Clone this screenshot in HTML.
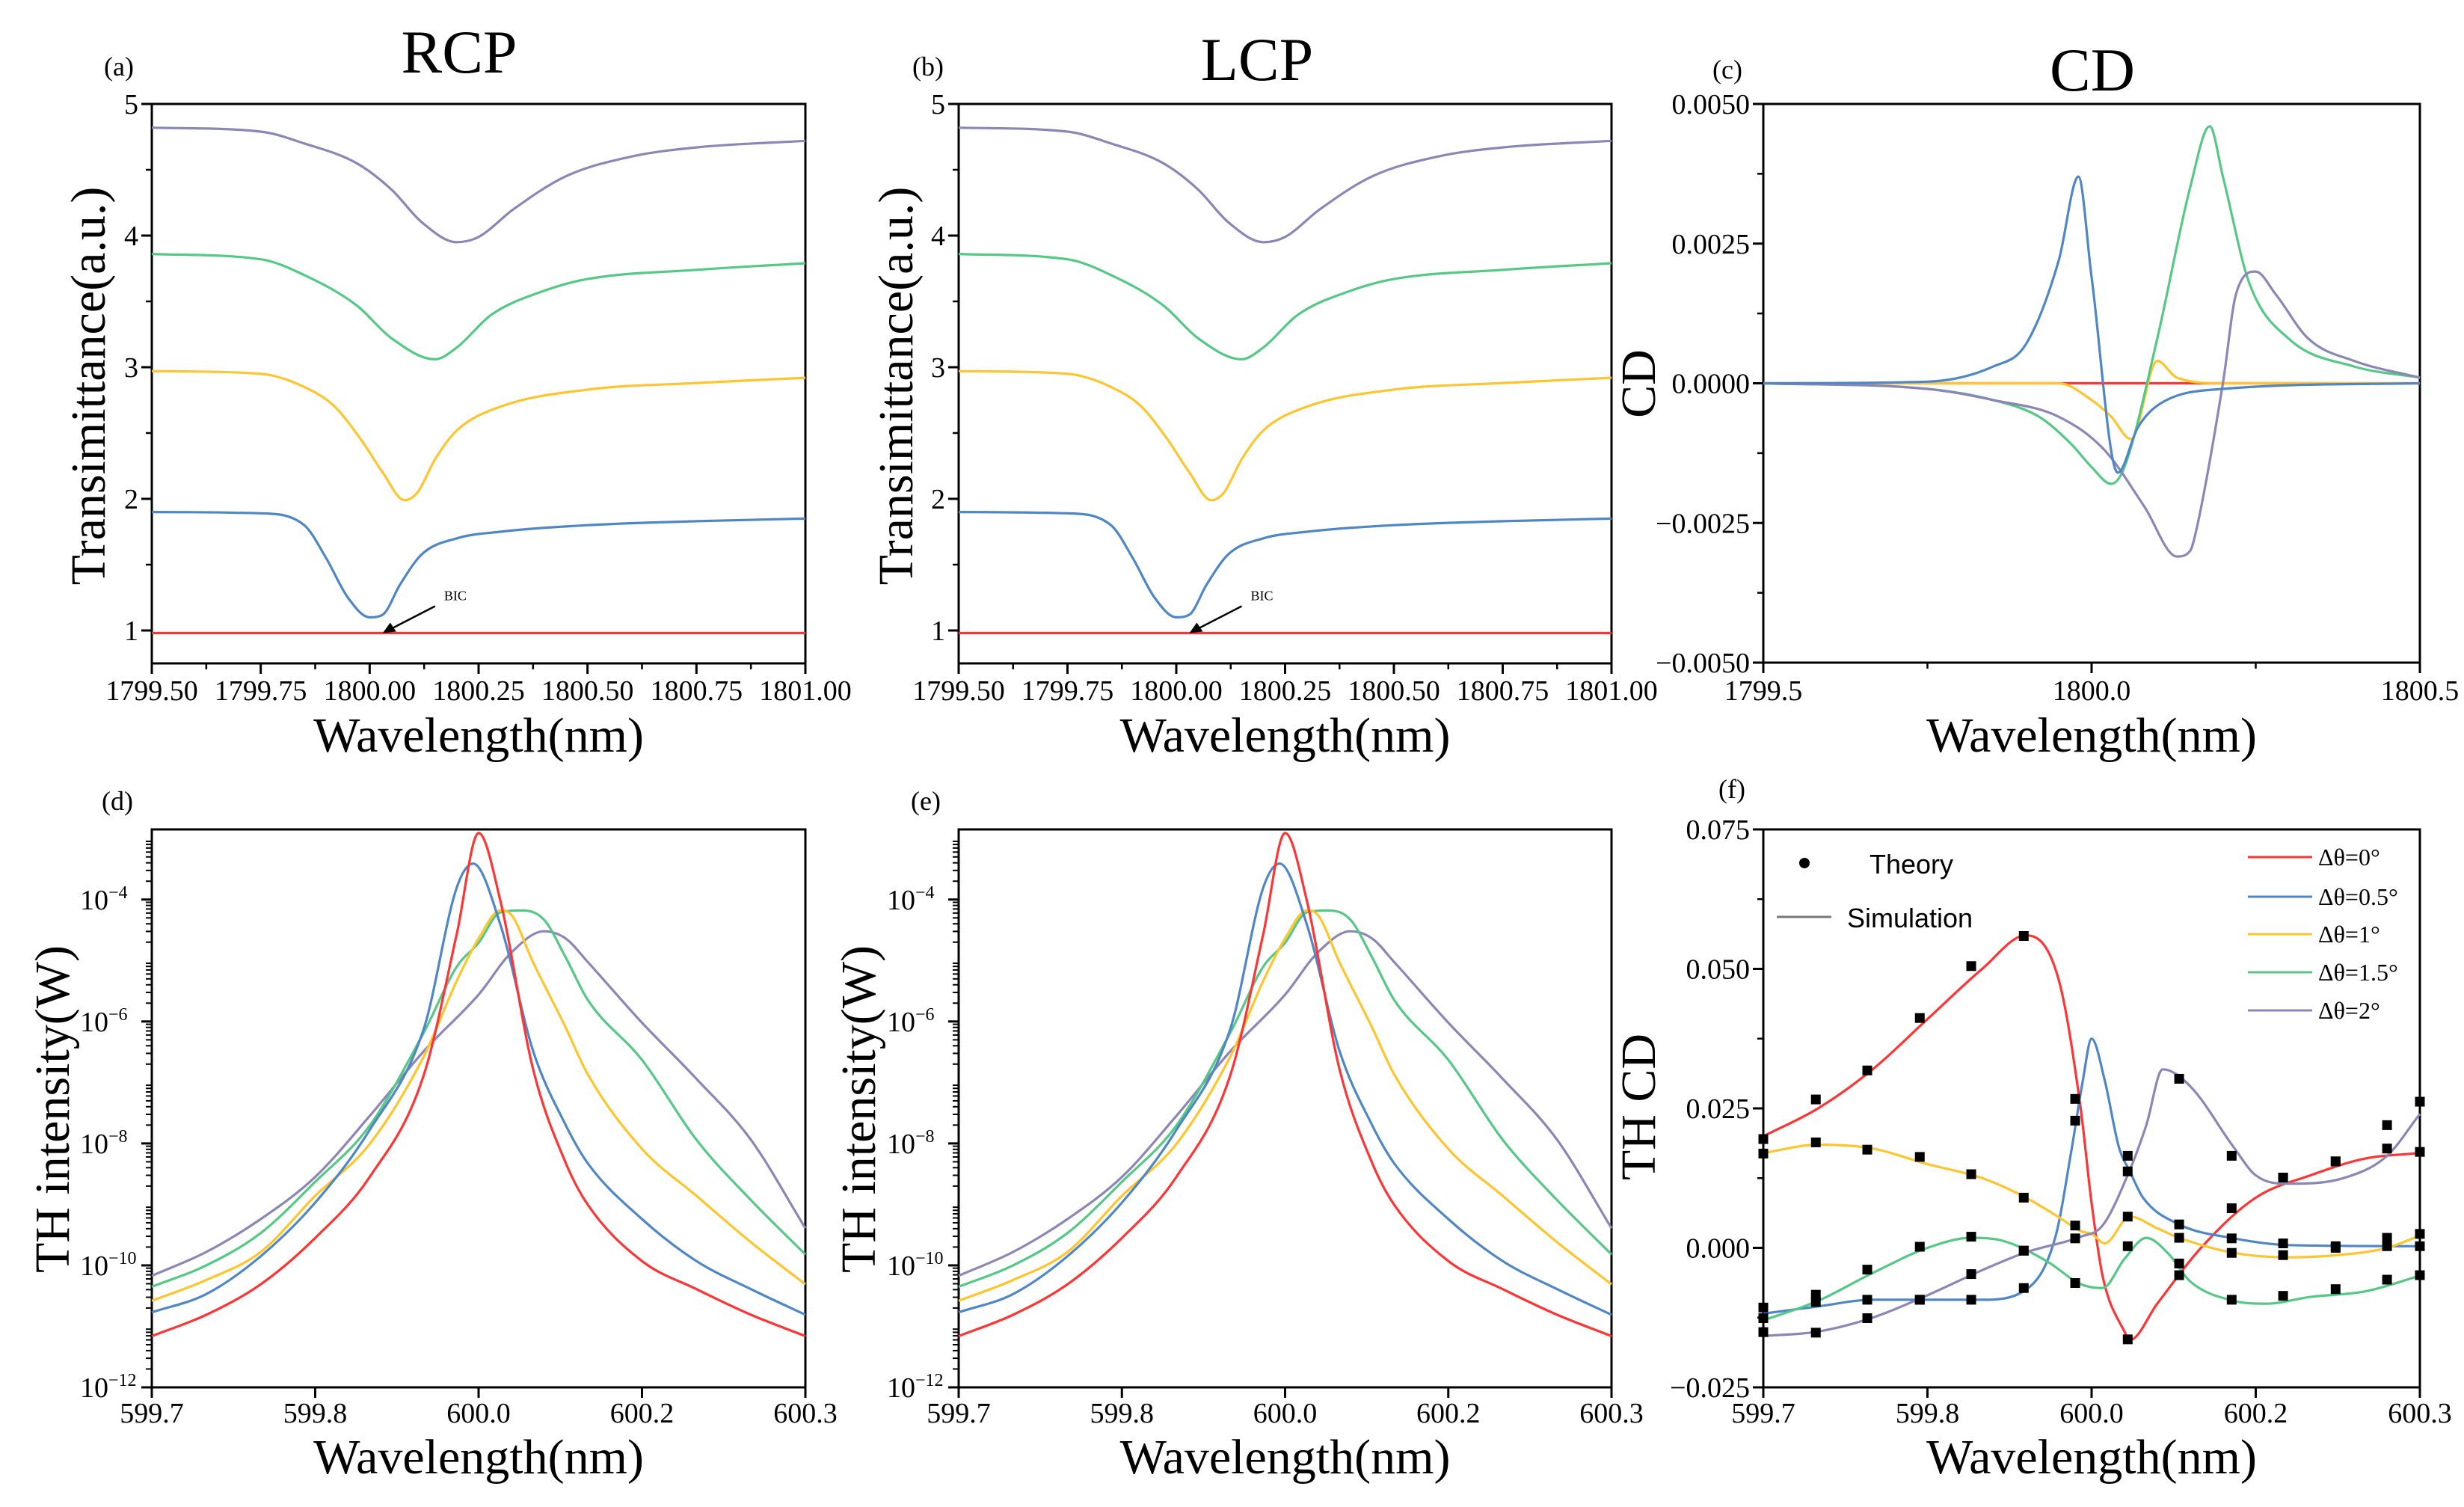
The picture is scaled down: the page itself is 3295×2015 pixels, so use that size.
<!DOCTYPE html>
<html><head><meta charset="utf-8"><style>
html,body{margin:0;padding:0;background:#fff;}
svg{display:block;}
text{font-family:"Liberation Serif",serif;fill:#000;}
.sans{font-family:"Liberation Sans",sans-serif;}
</style></head><body>
<svg id="fig" width="3295" height="2015" viewBox="0 0 3295 2015" xmlns="http://www.w3.org/2000/svg"></svg>
<script>
// ---------- Panel a/b : transmittance (x, y pairs per series) ----------
const tX_red = [1799.5, 1801.0];
const tY_red = [0.98, 0.98];
const tX_blue = [1799.5,1799.75,1799.85,1799.9,1799.95,1800.0,1800.03,1800.07,1800.12,1800.2,1800.3,1800.5,1800.75,1801.0];
const tY_blue = [1.90,1.89,1.80,1.55,1.25,1.10,1.12,1.35,1.58,1.70,1.75,1.80,1.83,1.85];
const tX_yellow = [1799.5,1799.75,1799.85,1799.92,1799.98,1800.03,1800.08,1800.11,1800.15,1800.2,1800.3,1800.5,1800.75,1801.0];
const tY_yellow = [2.97,2.95,2.85,2.70,2.45,2.20,1.99,2.05,2.30,2.52,2.70,2.83,2.88,2.92];
const tX_green = [1799.5,1799.75,1799.85,1799.97,1800.05,1800.15,1800.2,1800.28,1800.4,1800.5,1800.75,1801.0];
const tY_green = [3.86,3.82,3.70,3.47,3.22,3.06,3.15,3.40,3.58,3.67,3.74,3.79];
const tX_purple = [1799.5,1799.75,1799.85,1799.97,1800.05,1800.12,1800.2,1800.25,1800.33,1800.45,1800.6,1800.75,1801.0];
const tY_purple = [4.82,4.79,4.70,4.55,4.35,4.10,3.95,3.99,4.20,4.45,4.60,4.67,4.72];
const tXTicks = [1799.5,1799.75,1800.0,1800.25,1800.5,1800.75,1801.0];
const tXLabels = ["1799.50","1799.75","1800.00","1800.25","1800.50","1800.75","1801.00"];
const tYTicks = [1,2,3,4,5];
const tYLabels = ["1","2","3","4","5"];

// ---------- Panel c : CD ----------
const cX_red = [1799.5,1800.5];
const cY_red = [0,0];
const cX_blue = [1799.5,1799.75,1799.85,1799.9,1799.95,1799.98,1800.0,1800.04,1800.07,1800.1,1800.2,1800.5];
const cY_blue = [0,0.00003,0.0003,0.0007,0.0022,0.0037,0.0019,-0.0016,-0.0008,-0.0004,-0.0001,0];
const cX_green = [1799.5,1799.75,1799.85,1799.92,1799.97,1800.0,1800.03,1800.05,1800.1,1800.15,1800.18,1800.2,1800.24,1800.3,1800.4,1800.5];
const cY_green = [0,-0.0001,-0.0003,-0.0006,-0.0011,-0.0015,-0.0018,-0.0015,0.0008,0.0035,0.0046,0.0037,0.0018,0.0008,0.0003,0.0001];
const cX_yellow = [1799.5,1799.95,1800.0,1800.03,1800.06,1800.1,1800.13,1800.2,1800.5];
const cY_yellow = [0,0,-0.0003,-0.0006,-0.001,0.0004,0.0001,0,0];
const cX_purple = [1799.5,1799.75,1799.85,1799.95,1800.02,1800.08,1800.13,1800.15,1800.16,1800.2,1800.22,1800.25,1800.28,1800.33,1800.4,1800.5];
const cY_purple = [0,-0.0001,-0.0003,-0.0006,-0.0012,-0.0022,-0.0031,-0.0030,-0.0026,0.0,0.0016,0.0020,0.0016,0.0008,0.0004,0.0001];
const cXTicks = [1799.5,1800.0,1800.5];
const cXLabels = ["1799.5","1800.0","1800.5"];
const cYTicks = [-0.005,-0.0025,0,0.0025,0.005];
const cYLabels = ["\u22120.0050","\u22120.0025","0.0000","0.0025","0.0050"];

// ---------- Panel d/e : TH intensity (log10 W) ----------
const dX = [599.7,599.75,599.8,599.85,599.9,599.95,599.98,600.0,600.02,600.05,600.08,600.1,600.15,600.2,600.25,600.3];
const dY_red = [-11.16,-10.81,-10.31,-9.55,-8.55,-6.86,-4.56,-2.91,-4.02,-6.78,-8.32,-9.0,-9.93,-10.39,-10.81,-11.16];
const dX_blue = [599.7,599.75,599.8,599.85,599.9,599.95,599.98,599.995,600.02,600.05,600.08,600.1,600.15,600.2,600.25,600.3];
const dY_blue = [-10.77,-10.47,-9.85,-8.97,-7.78,-6.1,-3.8,-3.41,-4.41,-6.48,-7.7,-8.32,-9.24,-9.93,-10.39,-10.81];
const dX_yellow = [599.7,599.75,599.8,599.85,599.9,599.95,599.98,600.0,600.02,600.03,600.05,600.08,600.1,600.15,600.2,600.25,600.3];
const dY_yellow = [-10.58,-10.24,-9.78,-8.86,-8.01,-6.56,-5.33,-4.64,-4.18,-4.25,-5.03,-6.1,-6.86,-8.09,-8.86,-9.62,-10.31];
const dX_green = [599.7,599.75,599.8,599.85,599.9,599.95,599.98,600.0,600.02,600.04,600.06,600.08,600.1,600.15,600.2,600.25,600.3];
const dY_green = [-10.35,-10.0,-9.47,-8.63,-7.71,-6.17,-5.1,-4.71,-4.21,-4.18,-4.33,-4.95,-5.64,-6.63,-7.94,-8.93,-9.82];
const dX_purple = [599.7,599.75,599.8,599.85,599.9,599.95,600.0,600.03,600.06,600.08,600.1,600.15,600.2,600.25,600.3];
const dY_purple = [-10.17,-9.78,-9.24,-8.55,-7.55,-6.48,-5.56,-4.87,-4.52,-4.64,-5.02,-6.02,-6.94,-7.94,-9.39];
const dXTicks = [599.7,599.85,600.0,600.15,600.3];
const dXLabels = ["599.7","599.8","600.0","600.2","600.3"];
const dYTicks = [-12,-10,-8,-6,-4];
const dYExp = ["\u221212","\u221210","\u22128","\u22126","\u22124"];

// ---------- Panel f : TH CD ----------
const fSimX_red = [599.7,599.75,599.8,599.85,599.9,599.94,599.97,599.99,600.0,600.01,600.03,600.035,600.06,600.1,600.15,600.2,600.25,600.3];
const fSimY_red = [0.020,0.025,0.032,0.041,0.050,0.056,0.048,0.025,0.008,-0.005,-0.015,-0.0165,-0.010,0.0,0.009,0.013,0.016,0.017];
const fSimX_blue = [599.7,599.75,599.8,599.85,599.9,599.94,599.967,599.982,599.992,600.0,600.012,600.025,600.035,600.047,600.08,600.13,600.18,600.3];
const fSimY_blue = [-0.0118,-0.0105,-0.0093,-0.0093,-0.0093,-0.0075,0.002,0.018,0.030,0.0375,0.030,0.018,0.0137,0.009,0.0042,0.0017,0.0005,0.0003];
const fSimX_yellow = [599.7,599.75,599.8,599.85,599.9,599.94,599.97,599.99,600.0,600.012,600.035,600.06,600.08,600.13,600.18,600.23,600.27,600.3];
const fSimY_yellow = [0.017,0.0185,0.0178,0.015,0.0125,0.009,0.0055,0.003,0.0025,0.0008,0.0056,0.0035,0.0018,-0.0009,-0.0017,-0.0012,0.0,0.0022];
const fSimX_green = [599.7,599.75,599.8,599.85,599.89,599.92,599.96,599.99,600.01,600.03,600.05,600.07,600.09,600.13,600.16,600.2,600.25,600.3];
const fSimY_green = [-0.013,-0.0095,-0.0045,0.0,0.0018,0.0012,-0.0025,-0.0065,-0.0072,-0.002,0.0018,-0.001,-0.006,-0.0095,-0.010,-0.0088,-0.0078,-0.005];
const fSimX_purple = [599.7,599.75,599.8,599.85,599.9,599.94,599.99,600.01,600.035,600.05,600.065,600.09,600.13,600.15,600.18,600.23,600.27,600.3];
const fSimY_purple = [-0.0158,-0.015,-0.0125,-0.0085,-0.004,-0.0008,0.002,0.004,0.014,0.022,0.032,0.029,0.018,0.013,0.0115,0.0125,0.0165,0.024];
const fThX = [599.7,599.748,599.795,599.843,599.89,599.938,599.985,600.033,600.08,600.128,600.175,600.223,600.27,600.3];
const fTh_red = [0.0195,0.0266,0.0318,0.0412,0.0505,0.0559,0.0267,-0.0164,-0.0028,0.0071,0.0126,0.0155,0.0178,0.0172];
const fTh_blue = [-0.0107,-0.0097,-0.0093,-0.0093,-0.0093,-0.0072,0.0228,0.0137,0.0042,0.0017,0.0008,0.0003,0.0003,0.0003];
const fTh_yellow = [0.0169,0.0189,0.0176,0.0163,0.0132,0.009,0.004,0.0056,0.0018,-0.0009,-0.0013,0.0,0.0018,0.0025];
const fTh_green = [-0.0126,-0.0084,-0.0039,0.0002,0.002,-0.0005,-0.0063,0.0003,-0.0049,-0.0093,-0.0086,-0.0074,-0.0057,-0.0049];
const fTh_purple = [-0.0151,-0.0152,-0.0126,-0.0093,-0.0047,-0.0005,0.0017,0.0165,0.0303,0.0165,0.0126,0.0155,0.022,0.0262];
const fYTicks = [-0.025,0,0.025,0.05,0.075];
const fYLabels = ["\u22120.025","0.000","0.025","0.050","0.075"];
const fLegendLabels = ["\u0394\u03b8=0\u00b0","\u0394\u03b8=0.5\u00b0","\u0394\u03b8=1\u00b0","\u0394\u03b8=1.5\u00b0","\u0394\u03b8=2\u00b0"];

const COL = {red:"#ff3535", blue:"#4f86c6", yellow:"#ffc52e", green:"#55c886", purple:"#8c86b6"};
const NS = "http://www.w3.org/2000/svg";
const svg = document.getElementById('fig');

function el(tag, attrs, parent){
  const e = document.createElementNS(NS, tag);
  for (const k in attrs) e.setAttribute(k, attrs[k]);
  (parent||svg).appendChild(e);
  return e;
}
function sx(p,v){return p.L+(v-p.x0)/(p.x1-p.x0)*(p.R-p.L);}
function sy(p,v){return p.B-(v-p.y0)/(p.y1-p.y0)*(p.B-p.T);}

// monotone cubic path through screen points
function smoothPath(P){
  const n = P.length;
  if (n<3) return P.map((q,i)=>(i?'L':'M')+q[0].toFixed(1)+','+q[1].toFixed(1)).join(' ');
  const d=[], m=[];
  for (let i=0;i<n-1;i++) d.push((P[i+1][1]-P[i][1])/(P[i+1][0]-P[i][0]));
  m.push(d[0]);
  for (let i=1;i<n-1;i++) m.push(d[i-1]*d[i]<=0?0:(d[i-1]+d[i])/2);
  m.push(d[n-2]);
  for (let i=0;i<n-1;i++){
    if (d[i]===0){m[i]=0;m[i+1]=0;continue;}
    const a=m[i]/d[i], b=m[i+1]/d[i], s=a*a+b*b;
    if (s>9){const t=3/Math.sqrt(s);m[i]=t*a*d[i];m[i+1]=t*b*d[i];}
  }
  let s='M'+P[0][0].toFixed(1)+','+P[0][1].toFixed(1);
  for (let i=0;i<n-1;i++){
    const h=(P[i+1][0]-P[i][0])/3;
    s+=' C'+(P[i][0]+h).toFixed(1)+','+(P[i][1]+m[i]*h).toFixed(1)+' '+(P[i+1][0]-h).toFixed(1)+','+(P[i+1][1]-m[i+1]*h).toFixed(1)+' '+P[i+1][0].toFixed(1)+','+P[i+1][1].toFixed(1);
  }
  return s;
}

function frame(p, name){
  const g = el('g',{});
  
  
  const r = el('rect',{x:p.L,y:p.T,width:p.R-p.L,height:p.B-p.T,fill:'none',stroke:'#000','stroke-width':3},g);
  
  
  return g;
}
function xTicks(p, g, ticks, labels, minor, ly){
  ticks.forEach((t,i)=>{
    const x = sx(p,t);
    const tk = el('line',{x1:x,x2:x,y1:p.B,y2:p.B+14,stroke:'#000','stroke-width':3},g);
    
    
    const tx = el('text',{x:x,y:ly,'font-size':38,'text-anchor':'middle'},g);
    tx.textContent = labels[i];
    
    
  });
  minor.forEach(t=>{
    const x = sx(p,t);
    const tk = el('line',{x1:x,x2:x,y1:p.B,y2:p.B+8,stroke:'#000','stroke-width':2.5},g);
    
    
  });
}
function yTicks(p, g, ticks, labels, minor, lx){
  ticks.forEach((t,i)=>{
    const y = sy(p,t);
    const tk = el('line',{x1:p.L-14,x2:p.L,y1:y,y2:y,stroke:'#000','stroke-width':3},g);
    
    
    const tx = el('text',{x:lx,y:y+13,'font-size':38,'text-anchor':'end'},g);
    tx.textContent = labels[i];
    
    
  });
  minor.forEach(t=>{
    const y = sy(p,t);
    const tk = el('line',{x1:p.L-8,x2:p.L,y1:y,y2:y,stroke:'#000','stroke-width':2.5},g);
    
    
  });
}
function series(p, g, xs, ys, color, name){
  const pts = xs.map((x,i)=>[sx(p,x), sy(p,ys[i])]);
  const path = el('path',{d:smoothPath(pts),fill:'none',stroke:color,'stroke-width':3.2,'stroke-linejoin':'round'},g);
  
  
}
function label(x,y,txt,size,name,anchor,rot,cls){
  const t = el('text',{x:x,y:y,'font-size':size,'text-anchor':anchor||'middle'});
  if (rot) t.setAttribute('transform','rotate(-90 '+x+' '+y+')');
  if (cls) t.setAttribute('class', cls);
  t.textContent = txt;
  
  
  return t;
}
function range(a,b,s){const r=[];for(let v=a;v<=b+1e-9;v+=s)r.push(+v.toFixed(6));return r;}

// ---------- panels a & b ----------
[[203,1077,'a','RCP',614,97,139,140],[1282,2155,'b','LCP',1681,107,1220,1220]].forEach(cfg=>{
  const p = {L:cfg[0],R:cfg[1],T:139,B:887,x0:1799.5,x1:1801.0,y0:0.75,y1:5};
  const g = frame(p, 'panel-'+cfg[2]);
  xTicks(p,g,tXTicks,tXLabels,range(1799.625,1801,0.25),936);
  yTicks(p,g,tYTicks,tYLabels,[1.5,2.5,3.5,4.5],p.L-18);
  series(p,g,tX_red,tY_red,COL.red,'series-dtheta-0');
  series(p,g,tX_blue,tY_blue,COL.blue,'series-dtheta-0.5');
  series(p,g,tX_yellow,tY_yellow,COL.yellow,'series-dtheta-1');
  series(p,g,tX_green,tY_green,COL.green,'series-dtheta-1.5');
  series(p,g,tX_purple,tY_purple,COL.purple,'series-dtheta-2');
  const ax = sx(p,1800.03), ay = sy(p,0.98);
  const ar = el('line',{x1:ax+70,y1:ay-36,x2:ax+4,y2:ay-2,stroke:'#000','stroke-width':2.5},g);
  
  
  const hd = el('path',{d:'M'+ax+','+ay+' l18,-2 l-8,-12 z',fill:'#000'},g);
  
  
  const bt = el('text',{x:ax+82,y:ay-44,'font-size':18},g);
  bt.textContent = 'BIC';
  
  
  label((p.L+p.R)/2, 1005, 'Wavelength(nm)', 66, 'x-axis-title');
  label(cfg[7], 516, 'Transimittance(a.u.)', 66, 'y-axis-title', 'middle', true);
  label(cfg[4], cfg[5], cfg[3], 82, 'panel-title');
  label(cfg[6], 101, '('+cfg[2]+')', 36, 'panel-label', 'start');
});

// ---------- panel c ----------
(function(){
  const p = {L:2358,R:3236,T:139,B:886,x0:1799.5,x1:1800.5,y0:-0.005,y1:0.005};
  const g = frame(p, 'panel-c');
  xTicks(p,g,cXTicks,cXLabels,[1799.75,1800.25],936);
  yTicks(p,g,cYTicks,cYLabels,[-0.00375,-0.00125,0.00125,0.00375],p.L-18);
  series(p,g,cX_red,cY_red,COL.red,'cd-dtheta-0');
  series(p,g,cX_yellow,cY_yellow,COL.yellow,'cd-dtheta-1');
  series(p,g,cX_green,cY_green,COL.green,'cd-dtheta-1.5');
  series(p,g,cX_purple,cY_purple,COL.purple,'cd-dtheta-2');
  series(p,g,cX_blue,cY_blue,COL.blue,'cd-dtheta-0.5');
  label((p.L+p.R)/2, 1005, 'Wavelength(nm)', 66, 'x-axis-title');
  label(2213, 513, 'CD', 66, 'y-axis-title', 'middle', true);
  label(2798, 121, 'CD', 82, 'panel-title');
  label(2290, 105, '(c)', 36, 'panel-label', 'start');
})();

// ---------- panels d & e ----------
[[203,1077,'d',136,92],[1282,2155,'e',1218,1170]].forEach(cfg=>{
  const p = {L:cfg[0],R:cfg[1],T:1109,B:1855,x0:599.7,x1:600.3,y0:-12,y1:-2.85};
  const g = frame(p, 'panel-'+cfg[2]);
  xTicks(p,g,dXTicks,dXLabels,[],1902);
  dYTicks.forEach((t,i)=>{
    const y = sy(p,t);
    const tk = el('line',{x1:p.L-14,x2:p.L,y1:y,y2:y,stroke:'#000','stroke-width':3},g);
    
    
    const tx = el('text',{x:p.L-58,y:y+13,'font-size':38,'text-anchor':'end'},g);
    tx.textContent = '10';
    
    
    const ex = el('text',{x:p.L-58,y:y-2,'font-size':24,'text-anchor':'start'},g);
    ex.textContent = dYExp[i];
    
    
  });
  for (let n=-12;n<-2.85;n++){
    [2,3,4,5,6,7,8,9].forEach(k=>{
      const v = n+Math.log10(k);
      if (v>p.y1) return;
      const y = sy(p,v);
      const tk = el('line',{x1:p.L-8,x2:p.L,y1:y,y2:y,stroke:'#000','stroke-width':2},g);
      
      
    });
  }
  series(p,g,dX_purple,dY_purple,COL.purple,'th-dtheta-2');
  series(p,g,dX_green,dY_green,COL.green,'th-dtheta-1.5');
  series(p,g,dX_yellow,dY_yellow,COL.yellow,'th-dtheta-1');
  series(p,g,dX_blue,dY_blue,COL.blue,'th-dtheta-0.5');
  series(p,g,dX,dY_red,COL.red,'th-dtheta-0');
  label((p.L+p.R)/2, 1970, 'Wavelength(nm)', 66, 'x-axis-title');
  label(cfg[4], 1483, 'TH intensity(W)', 66, 'y-axis-title', 'middle', true);
  label(cfg[3], 1083, '('+cfg[2]+')', 36, 'panel-label', 'start');
});

// ---------- panel f ----------
(function(){
  const p = {L:2358,R:3236,T:1109,B:1855,x0:599.7,x1:600.3,y0:-0.025,y1:0.075};
  const g = frame(p, 'panel-f');
  xTicks(p,g,dXTicks,dXLabels,[],1902);
  yTicks(p,g,fYTicks,fYLabels,[-0.0125,0.0125,0.0375,0.0625],p.L-18);
  const sims = [[fSimX_red,fSimY_red,COL.red,fTh_red,'0'],[fSimX_blue,fSimY_blue,COL.blue,fTh_blue,'0.5'],[fSimX_yellow,fSimY_yellow,COL.yellow,fTh_yellow,'1'],[fSimX_green,fSimY_green,COL.green,fTh_green,'1.5'],[fSimX_purple,fSimY_purple,COL.purple,fTh_purple,'2']];
  sims.forEach(s=>series(p,g,s[0],s[1],s[2],'simulation-dtheta-'+s[4]));
  sims.forEach(s=>{
    s[3].forEach((v,i)=>{
      const x = sx(p,fThX[i]), y = sy(p,v);
      const m = el('rect',{x:x-6.5,y:y-6.5,width:13,height:13,fill:'#000'},g);
      
      
    });
  });
  const dot = el('circle',{cx:2413,cy:1154,r:7,fill:'#000'});
  
  
  label(2500, 1168, 'Theory', 36, 'legend-theory-label', 'start', false, 'sans');
  const sl = el('line',{x1:2376,x2:2449,y1:1226,y2:1226,stroke:'#777','stroke-width':3});
  
  
  label(2470, 1240, 'Simulation', 36, 'legend-simulation-label', 'start', false, 'sans');
  const lys = [1146,1199,1249,1300,1351];
  const cols = [COL.red,COL.blue,COL.yellow,COL.green,COL.purple];
  fLegendLabels.forEach((t,i)=>{
    const ln = el('line',{x1:3006,x2:3092,y1:lys[i],y2:lys[i],stroke:cols[i],'stroke-width':3});
    
    
    label(3100, lys[i]+11, t, 32, 'legend-entry-label', 'start');
  });
  label((p.L+p.R)/2, 1970, 'Wavelength(nm)', 66, 'x-axis-title');
  label(2213, 1480, 'TH CD', 66, 'y-axis-title', 'middle', true);
  label(2298, 1067, '(f)', 36, 'panel-label', 'start');
})();
</script>
</body></html>
